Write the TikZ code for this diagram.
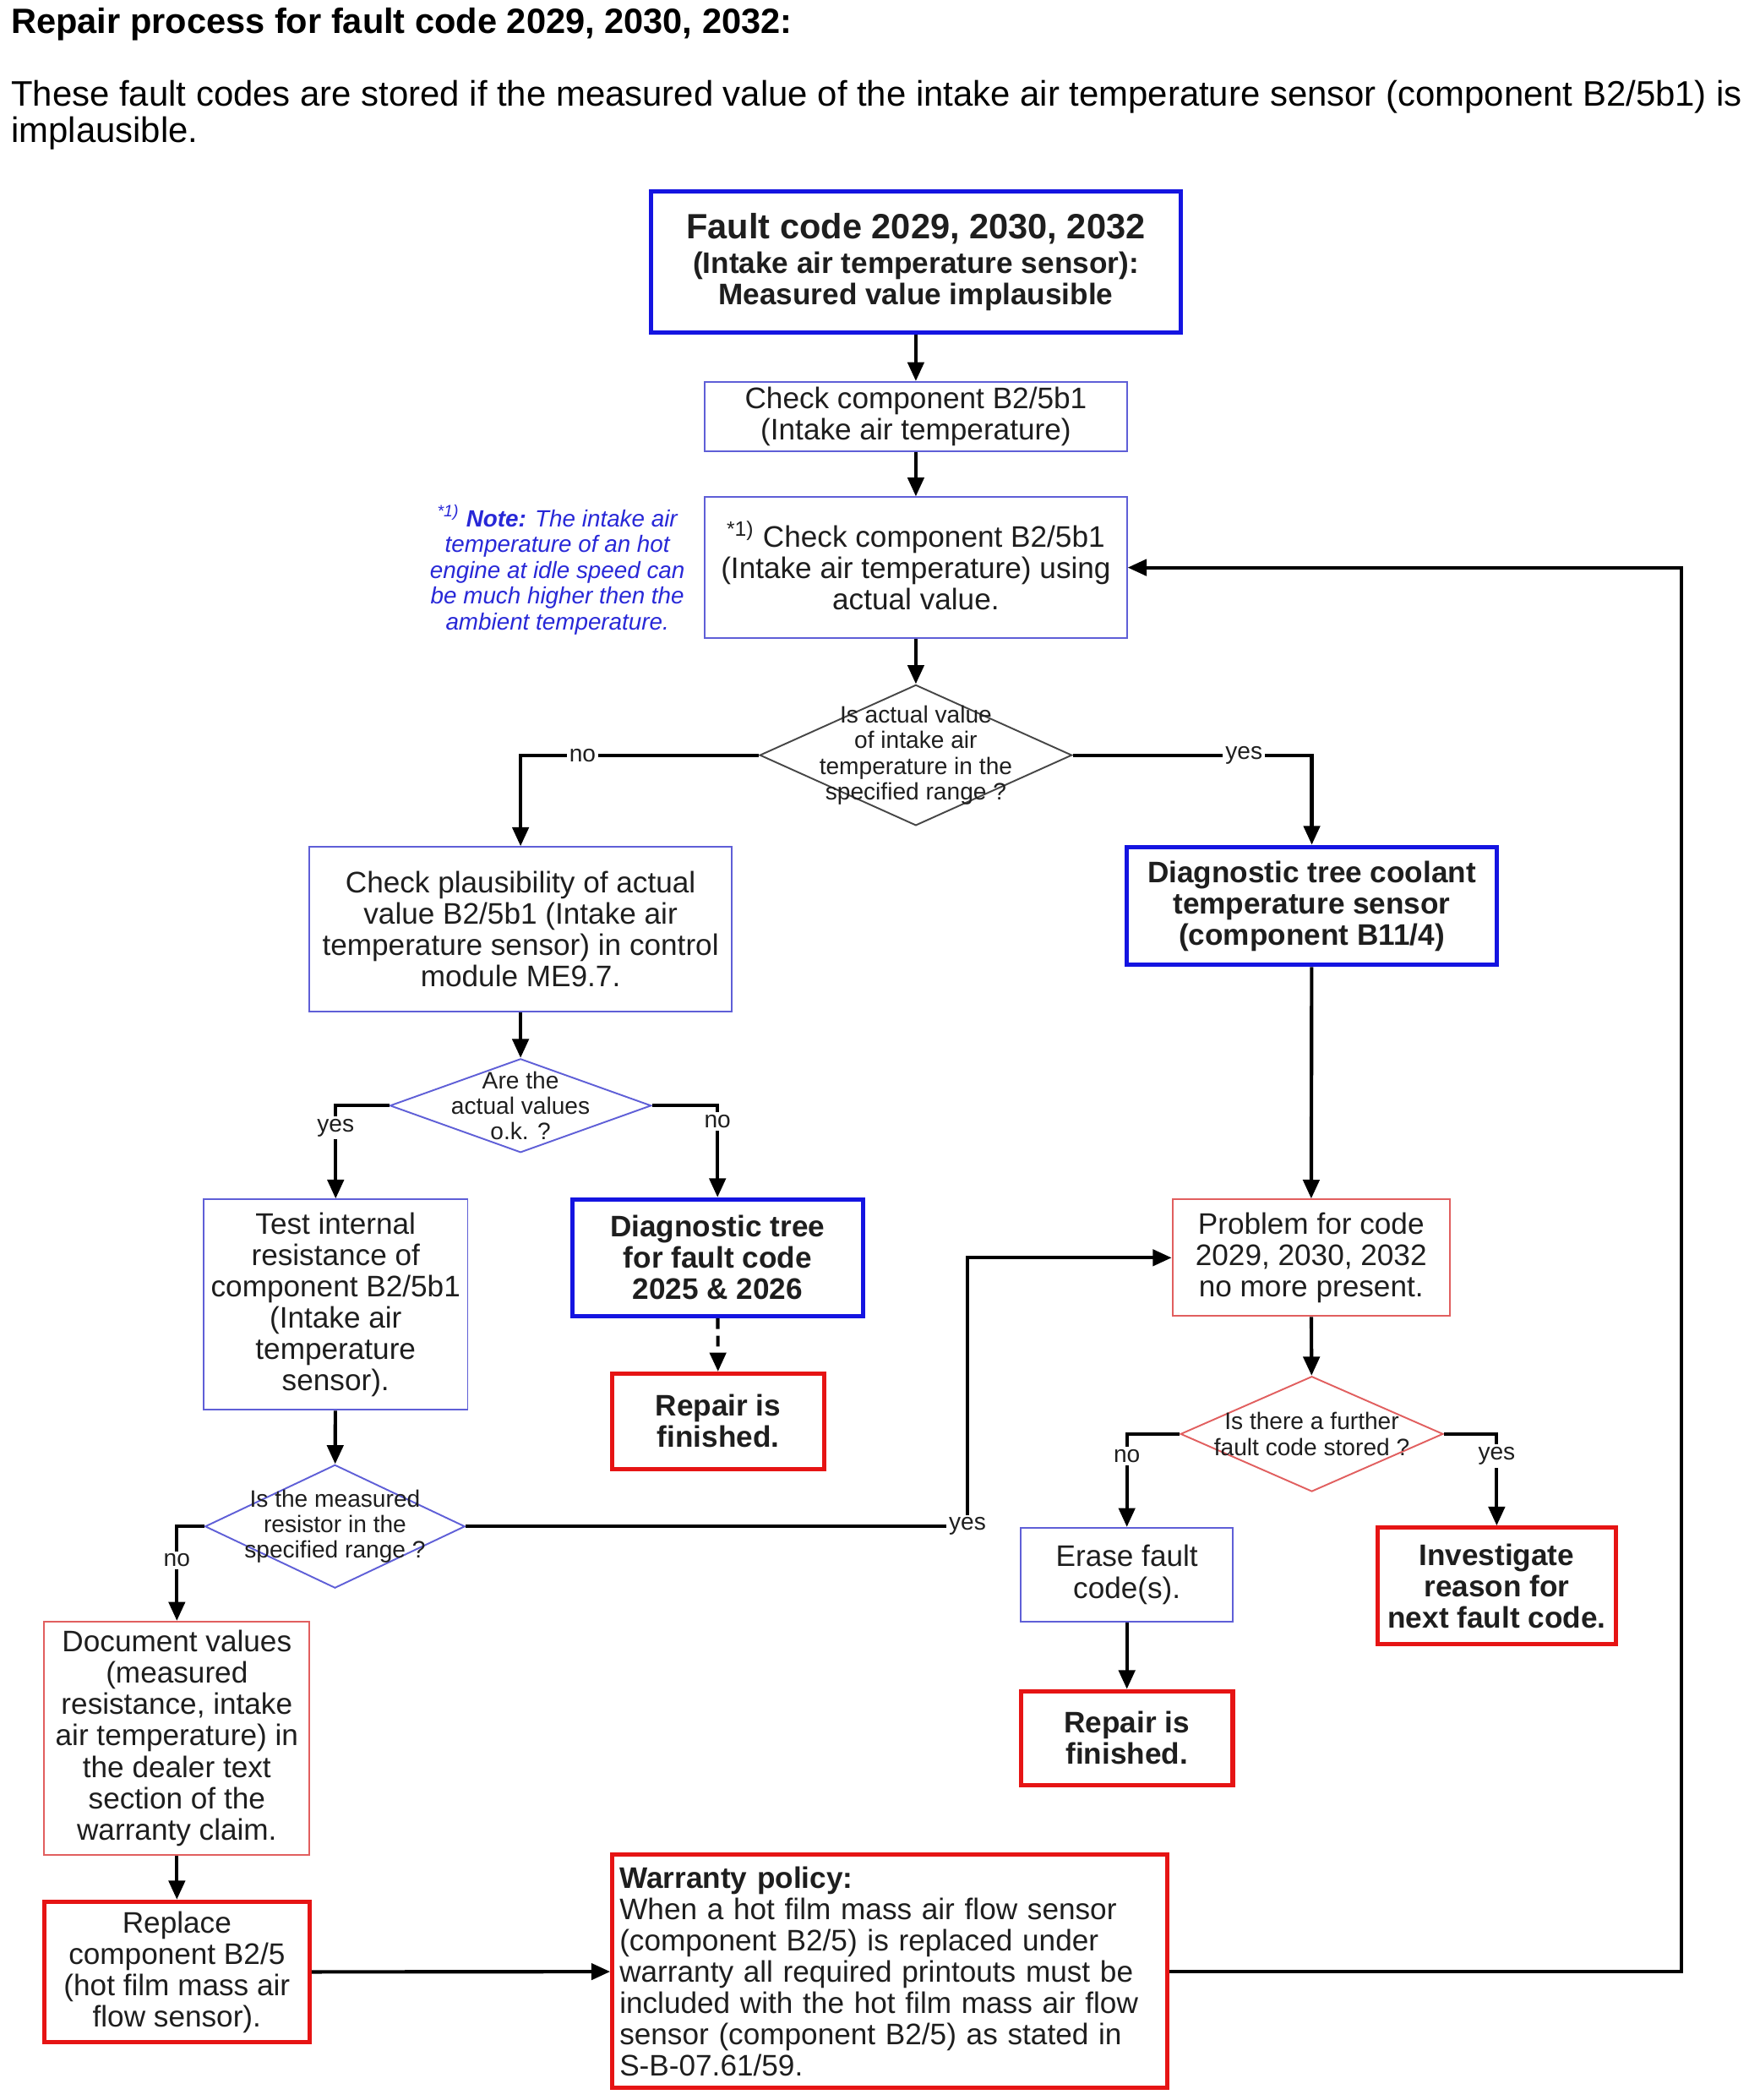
\documentclass[tikz,border=0pt]{standalone}
\usepackage{fontspec}
\setmainfont{Liberation Sans}
\usetikzlibrary{shapes.geometric,arrows.meta}
\definecolor{bthickc}{RGB}{20,20,225}
\definecolor{bthinc}{RGB}{95,95,215}
\definecolor{rthickc}{RGB}{230,20,20}
\definecolor{rthinc}{RGB}{225,95,95}
\definecolor{notec}{RGB}{40,40,215}
\definecolor{txt}{RGB}{30,30,30}
\definecolor{diagc}{RGB}{70,70,70}
\newcommand\boxfont{\fontsize{11}{11.6}\selectfont}
\newcommand\labfont{\fontsize{8.8}{9.5}\selectfont}
\begin{document}
\begin{tikzpicture}[x=0.496pt,y=-0.496pt,
  rect/.style n args={4}{minimum width={(#3-#1)*0.496pt}, minimum height={(#4-#2)*0.496pt}, at={({(#1+#3)/2},{(#2+#4)/2})}},
  base/.style={draw, inner sep=1pt, align=center, text=txt, font=\boxfont},
  bthick/.style={base, draw=bthickc, line width=1.6pt},
  bthin/.style={base, draw=bthinc, line width=0.6pt},
  rthick/.style={base, draw=rthickc, line width=1.6pt},
  rthin/.style={base, draw=rthinc, line width=0.6pt},
  dia/.style={diamond, draw, inner sep=0pt, line width=0.6pt},
  dtext/.style={text=txt, font=\labfont, align=center},
  arr/.style={-{Triangle[length=7pt,width=6pt]}, line width=1.3pt},
  lab/.style={fill=white, inner sep=1pt, font=\labfont, text=txt},
]
\useasboundingbox (0,0) rectangle (1313.5,1567);

% header
\node[anchor=base west, inner sep=0pt, font=\bfseries\fontsize{13}{15}\selectfont] (title) at (8,25) {Repair process for fault code 2029, 2030, 2032:};
\node[anchor=base west, inner sep=0pt, font=\fontsize{13.1}{15}\selectfont] (p1) at (8,79) {These fault codes are stored if the measured value of the intake air temperature sensor (component B2/5b1) is};
\node[anchor=base west, inner sep=0pt, font=\fontsize{13.1}{15}\selectfont] (p2) at (8,106) {implausible.};

% boxes
\node[bthick, font=\bfseries\boxfont, rect={486}{143}{881}{248}] (b1) {{\fontsize{13}{15}\selectfont Fault code 2029, 2030, 2032}\\[1.4pt](Intake air temperature sensor):\\Measured value implausible};
\node[bthin, rect={526}{285}{841}{337}] (b2) {Check component B2/5b1\\(Intake air temperature)};
\node[bthin, rect={526}{371}{841}{476}] (b3) {\smash{\textsuperscript{*1)}} Check component B2/5b1\\(Intake air temperature) using\\actual value.};
\node[text=notec, align=center, font=\itshape\fontsize{8.7}{9.5}\selectfont] (note) at (416,425) {\textsuperscript{*1)} \textbf{Note:} The intake air\\temperature of an hot\\engine at idle speed can\\be much higher then the\\ambient temperature.};

\node[dia, draw=diagc, rect={567}{511}{800}{616}, label={[dtext]center:{Is actual value\\of intake air\\temperature in the\\specified range ?}}] (d1) {};

\node[bthin, rect={231}{632}{546}{755}] (cp) {Check plausibility of actual\\value B2/5b1 (Intake air\\temperature sensor) in control\\module ME9.7.};
\node[bthick, font=\bfseries\boxfont, rect={841}{632}{1117}{720}] (cool) {Diagnostic tree coolant\\temperature sensor\\(component B11/4)};

\node[dia, draw=bthinc, rect={291}{790}{486}{860}, label={[dtext]center:{Are the\\actual values\\o.k. ?}}] (d2) {};

\node[bthin, rect={152}{895}{349}{1052}] (test) {Test internal\\resistance of\\component B2/5b1\\(Intake air\\temperature\\sensor).};
\node[bthick, font=\bfseries\boxfont, rect={427}{895}{644}{982}] (dt) {Diagnostic tree\\for fault code\\2025 \& 2026};
\node[rthick, font=\bfseries\boxfont, rect={457}{1025}{615}{1096}] (rf1) {Repair is\\finished.};

\node[dia, draw=bthinc, rect={153}{1093}{347}{1185}, label={[dtext]center:{Is the measured\\resistor in the\\specified range ?}}] (d3) {};

\node[rthin, rect={875}{895}{1082}{982}] (pb) {Problem for code\\2029, 2030, 2032\\no more present.};
\node[dia, draw=rthinc, rect={881}{1027}{1077}{1113}, label={[dtext]center:{Is there a further\\fault code stored ?}}] (d4) {};
\node[bthin, rect={762}{1140}{920}{1210}] (er) {Erase fault\\code(s).};
\node[rthick, font=\bfseries\boxfont, rect={1028}{1140}{1206}{1227}] (inv) {Investigate\\reason for\\next fault code.};
\node[rthick, font=\bfseries\boxfont, rect={762}{1262}{920}{1332}] (rf2) {Repair is\\finished.};

\node[rthin, rect={33}{1210}{231}{1384}] (doc) {Document values\\(measured\\resistance, intake\\air temperature) in\\the dealer text\\section of the\\warranty claim.};
\node[rthick, rect={33}{1419}{231}{1524}] (rep) {Replace\\component B2/5\\(hot film mass air\\flow sensor).};
\node[rthick, align=left, text width=200pt, rect={457}{1384}{871}{1558}] (war) {\textbf{Warranty policy:}\\When a hot film mass air flow sensor\\(component B2/5) is replaced under\\warranty all required printouts must be\\included with the hot film mass air flow\\sensor (component B2/5) as stated in\\S-B-07.61/59.};

% connectors
\coordinate (cy) at (722,1139);
\coordinate (rt) at (1255,423.5);
\draw[arr] (b1) -- (b2);
\draw[arr] (b2) -- (b3);
\draw[arr] (b3) -- (d1);
\draw[arr] (d1.west) -| node[lab, pos=0.37] {no} (cp.north);
\draw[arr] (d1.east) -| node[lab, pos=0.358] {yes} (cool.north);
\draw[arr] (cp) -- (d2);
\draw[arr] (d2.west) -| node[lab, pos=0.62] {yes} (test.north);
\draw[arr] (d2.east) -| node[lab, pos=0.586] {no} (dt.north);
\draw[arr, dash pattern=on 4pt off 2.5pt] (dt) -- (rf1);
\draw[arr] (test) -- (d3);
\draw[arr] (d3.west) -| node[lab, pos=0.68] {no} (doc.north);
\draw[arr] (d3.east) -- (cy) node[lab] {yes} |- (pb.west);
\draw[arr] (cool) -- (pb);
\draw[arr] (pb) -- (d4);
\draw[arr] (d4.west) -| node[lab, pos=0.62] {no} (er.north);
\draw[arr] (d4.east) -| node[lab, pos=0.62] {yes} (inv.north);
\draw[arr] (er) -- (rf2);
\draw[arr] (doc) -- (rep);
\draw[arr] (rep) -- (war);
\draw[arr] (war.east) -| (rt) -- (b3.east);
\end{tikzpicture}
\end{document}
